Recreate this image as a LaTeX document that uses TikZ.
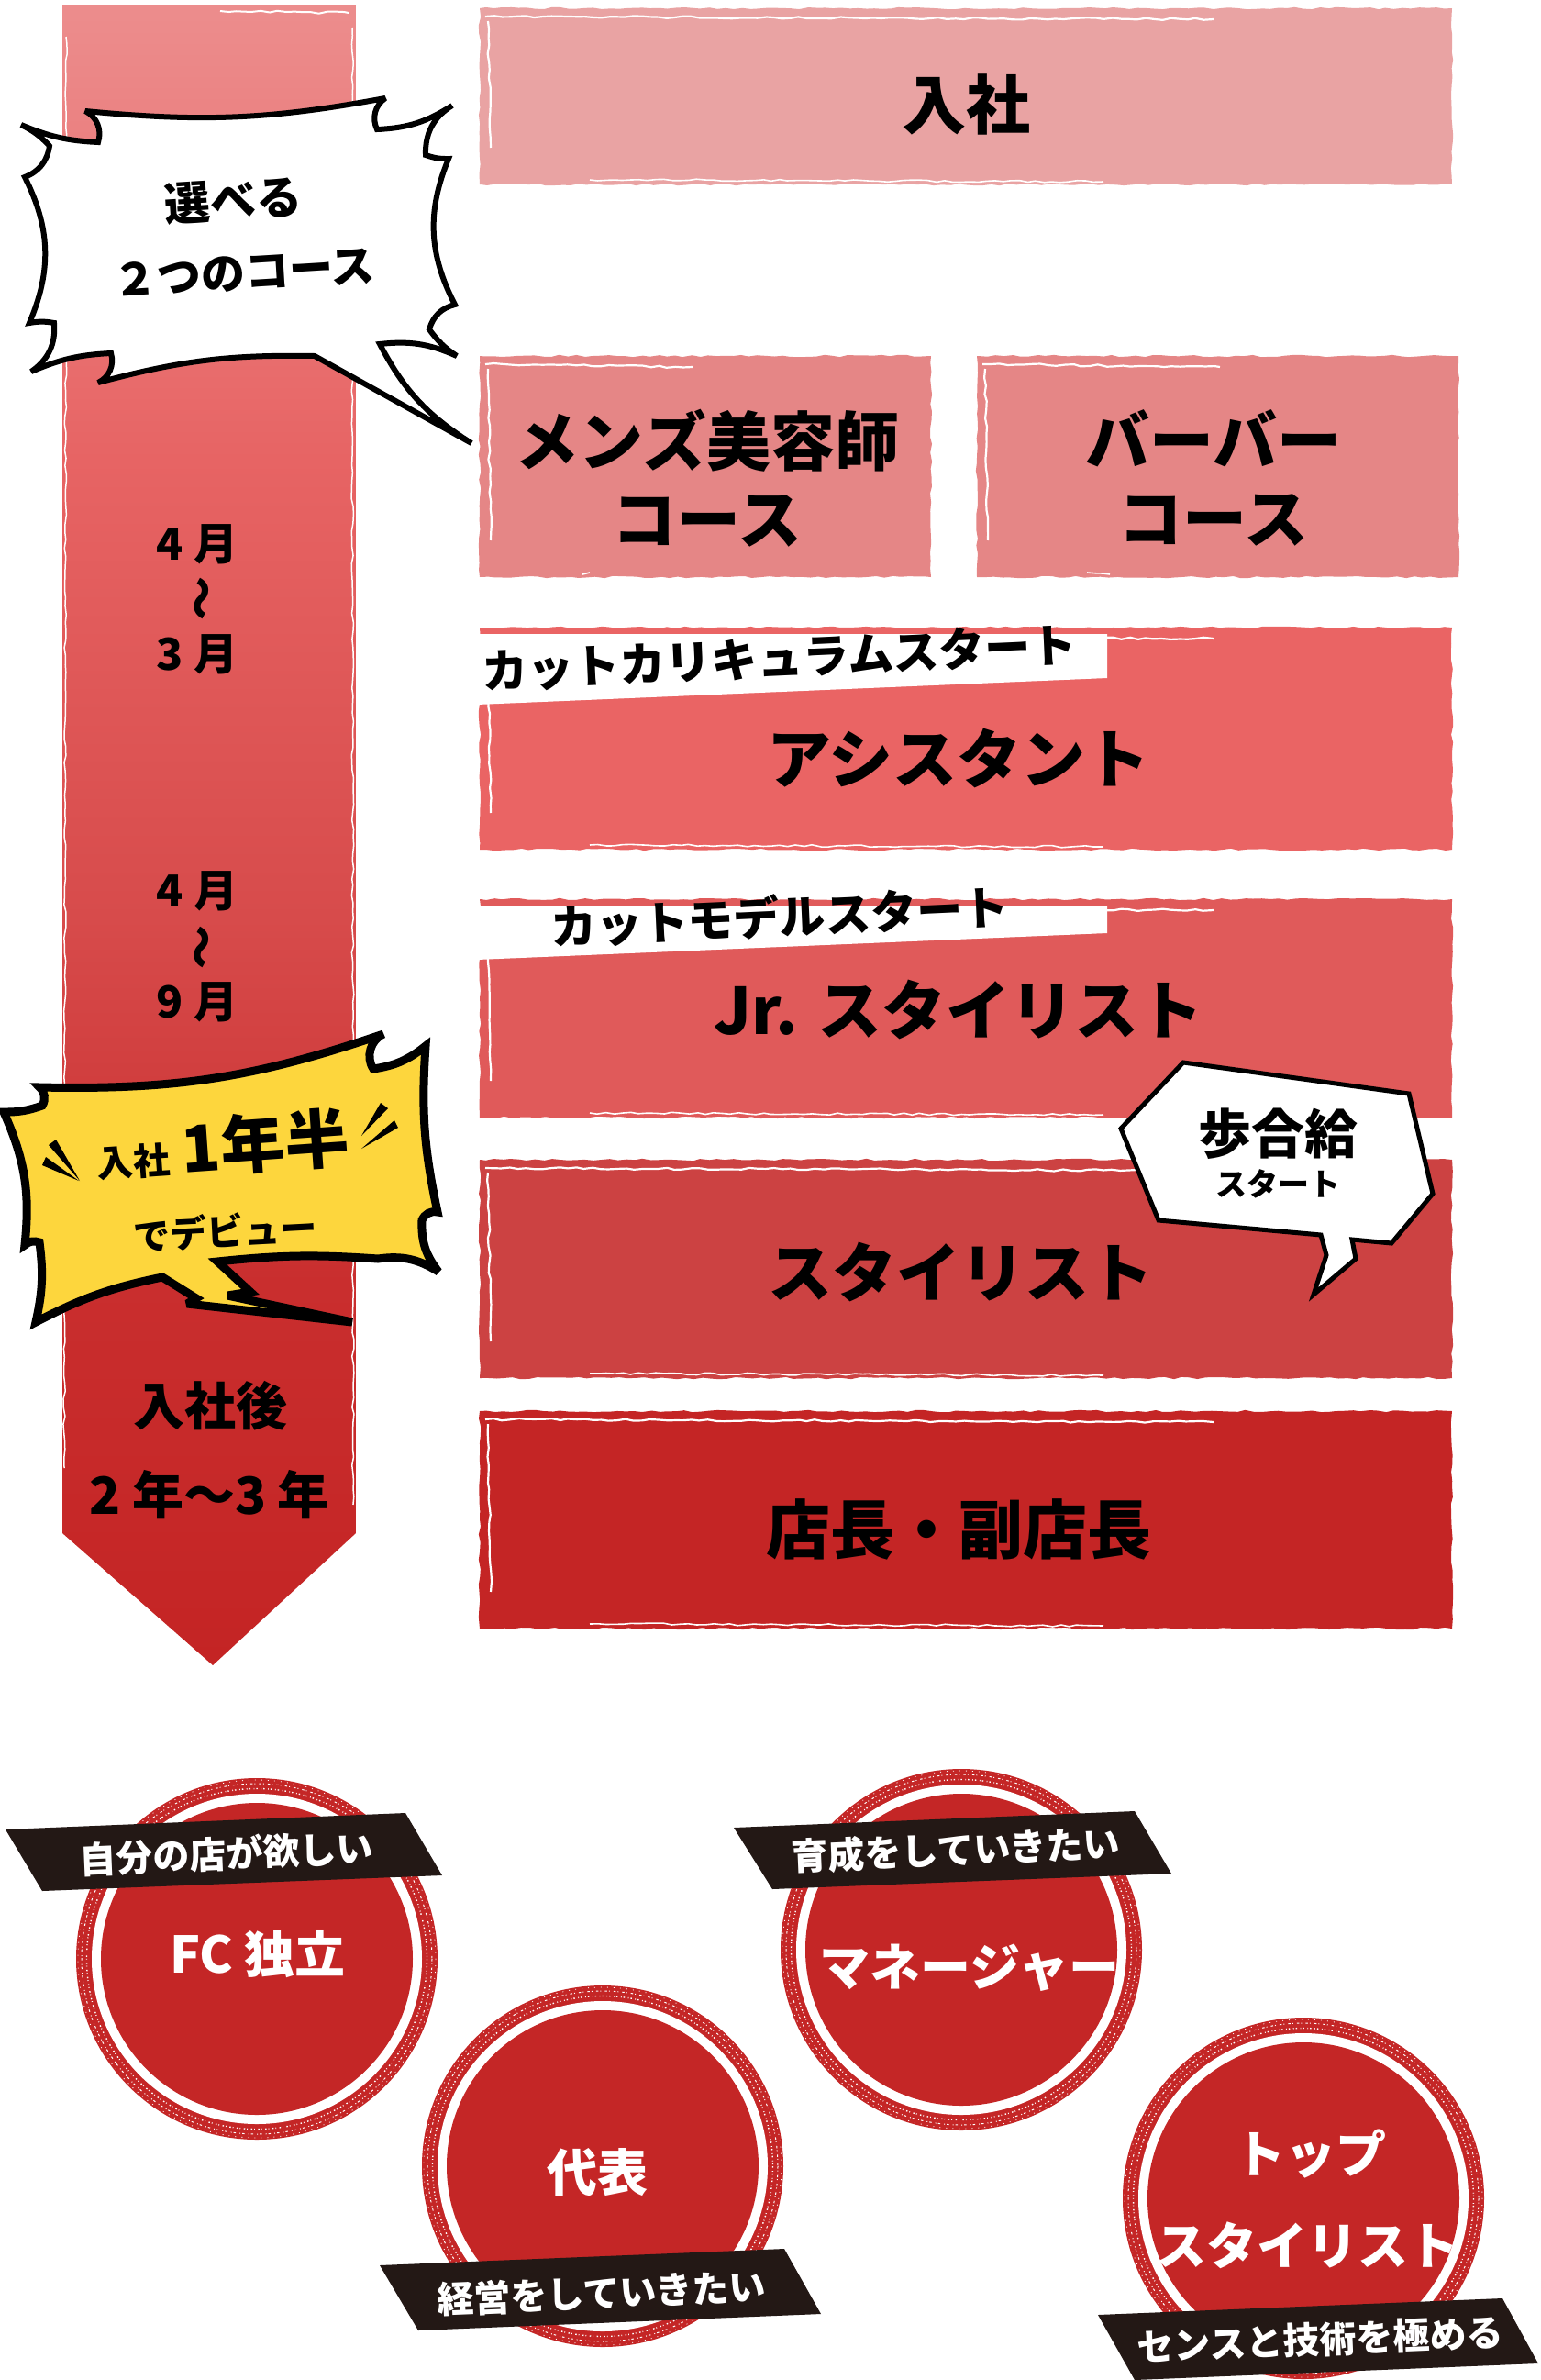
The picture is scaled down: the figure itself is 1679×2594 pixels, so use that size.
\documentclass[tikz,border=0pt]{standalone}
\usepackage{fontspec}
\setmainfont{Noto Sans CJK JP}
\usepackage{tikz}
\usetikzlibrary{decorations.pathmorphing}
\definecolor{cgA}{HTML}{EC8D8D}
\definecolor{cgB}{HTML}{E76464}
\definecolor{cgC}{HTML}{D74B4B}
\definecolor{cgD}{HTML}{C92E2E}
\definecolor{cgE}{HTML}{C42424}
\definecolor{boxA}{HTML}{E9A3A3}
\definecolor{boxB}{HTML}{E58686}
\definecolor{boxC}{HTML}{EA6464}
\definecolor{boxD}{HTML}{E05A5A}
\definecolor{boxE}{HTML}{CC4242}
\definecolor{boxF}{HTML}{C42525}
\definecolor{yel}{HTML}{FDD63D}
\definecolor{stampred}{HTML}{C42626}
\definecolor{bandblack}{HTML}{231815}
\pgfdeclareverticalshading{colgrad}{100bp}{color(0bp)=(cgE); color(25bp)=(cgE); color(36.5bp)=(cgD); color(47.5bp)=(cgC); color(61.3bp)=(cgB); color(75bp)=(cgA); color(100bp)=(cgA)}
\newcommand{\sketchbox}[5]{%
  \fill[#1, rough] (#2,#3) rectangle (#4,#5);
  \draw[white, line width=2.2, rough] ({#2+6},{#3+9}) -- ({#4-260},{#3+12});
  \draw[white, line width=2.2, rough] ({#2+9},{#3+14}) -- ({#2+12},{#5-40});
  \draw[white, line width=1.6, rough] ({#2+120},{#5-5}) -- ({#4-380},{#5-3});
}
\newcommand{\stamp}[3]{%
  \fill[stampred] (#2,#3) circle[radius=197];
  \fill[white] (#2,#3) circle[radius=180];
  \node[circle, fill=stampred, minimum size=340pt, inner sep=0] (#1) at (#2,#3) {};
  \draw[white, line width=1.4, dash pattern=on 1.5pt off 3.5pt on 0.8pt off 2pt] (#2,#3) circle[radius=185.5];
  \draw[white, line width=1.0, dash pattern=on 2.5pt off 2pt on 1pt off 4pt] (#2,#3) circle[radius=191];
  \draw[white, line width=0.8, dash pattern=on 1pt off 6pt] (#2,#3) circle[radius=195];
}
\begin{document}
\begin{tikzpicture}[x=1pt,y=-1pt,
  rough/.style={decorate, decoration={random steps, segment length=9pt, amplitude=1.2pt}},
  boxtext/.style={font=\bfseries\fontsize{70}{85}\selectfont, text=black, inner sep=0, align=center},
  labeltext/.style={font=\bfseries\fontsize{50}{60}\selectfont, text=black, inner sep=0, rotate=2.6},
  coltext/.style={font=\bfseries\fontsize{48}{56}\selectfont, text=black, inner sep=0},
  stamptext/.style={font=\bfseries\fontsize{55}{65}\selectfont, text=white, inner sep=0},
  bantext/.style={font=\bfseries\fontsize{40}{48}\selectfont, text=white, inner sep=0, rotate=2.4},
  banner/.style={fill=bandblack}]
\pgfmathsetseed{7}
\useasboundingbox (0,0) rectangle (1679,2594);

% ---- left timeline arrow
\shade[shading=colgrad] (68,5) -- (388,5) -- (388,1671) -- (232,1815) -- (68,1671) -- cycle;
\draw[white, line width=1.5, rough] (384,30) -- (385,1640);
\draw[white, line width=1.5, rough] (72,40) -- (70,1600);
\draw[white, line width=2, rough] (240,12) -- (380,14);

% ---- right boxes
\sketchbox{boxA}{523}{9}{1583}{201}
\sketchbox{boxB}{523}{388}{1015}{629}
\sketchbox{boxB}{1065}{388}{1590}{629}
\sketchbox{boxC}{523}{684}{1583}{926}
\sketchbox{boxD}{523}{980}{1583}{1218}
\sketchbox{boxE}{523}{1264}{1583}{1502}
\sketchbox{boxF}{523}{1538}{1583}{1775}

% white label bands
\fill[white] (520,691) -- (1207,691) -- (1207,739) -- (520,768) -- cycle;
\fill[white] (520,987) -- (1207,987) -- (1207,1017) -- (520,1046) -- cycle;

% box texts
\node[boxtext] (nyusha) at (1053,114) {入社};
\node[boxtext] (mens) at (771,521) {メンズ美容師\\コース};
\node[boxtext] (barber) at (1323,521) {バーバー\\コース};
\node[boxtext] (assist) at (1045,826) {アシスタント};
\node[boxtext] (jr) at (1045,1100) {Jr. スタイリスト};
\node[boxtext] (stylist) at (1047,1386) {スタイリスト};
\node[boxtext] (tencho) at (1045,1667) {店長・副店長};
\node[labeltext] (curr) at (850,717) {カットカリキュラムスタート};
\node[labeltext] (model) at (850,999) {カットモデルスタート};

% column texts
\node[coltext] (m1) at (215,593) {4 月};
\node[coltext, rotate=-90] (w1) at (215,652) {～};
\node[coltext] (m2) at (215,713) {3 月};
\node[coltext] (m3) at (215,971) {4 月};
\node[coltext, rotate=-90] (w2) at (215,1032) {～};
\node[coltext] (m4) at (215,1092) {9 月};
\node[coltext, font=\bfseries\fontsize{56}{64}\selectfont] (after) at (229,1532) {入社後};
\node[coltext, font=\bfseries\fontsize{56}{64}\selectfont] (years) at (228,1629) {2 年〜3 年};

% ---- speech bubble: two courses
\filldraw[fill=white, draw=black, line width=6, line join=miter, miter limit=3]
  (23,136) to[bend right=10] (107,155) to[bend right=40] (93,121) to[bend right=8] (420,107)
  to[bend right=40] (411,141) to[bend right=15] (493,115) to[bend right=30] (464,169)
  to[bend right=10] (489,173) to[bend right=25] (496,332) to[bend right=30] (468,359)
  to[bend right=10] (498,388) to[bend right=15] (414,375) to[bend right=15] (514,483)
  -- (343,388) to[bend right=8] (107,417) to[bend right=40] (121,385) to[bend right=10] (34,405)
  to[bend right=30] (59,352) to[bend right=10] (32,352) to[bend right=25] (27,193)
  to[bend right=30] (54,159) to[bend right=10] (23,136) -- cycle;
\node[coltext, font=\bfseries\fontsize{50}{60}\selectfont, rotate=3.5] (erabe) at (254,218) {選べる};
\node[coltext, font=\bfseries\fontsize{48}{60}\selectfont, rotate=3.5] (twoc) at (266,298) {２つのコース};

% ---- yellow bubble
\filldraw[fill=yel, draw=black, line width=9, line join=miter, miter limit=3]
  (43,1185) to[bend right=10] (418,1127) to[bend right=50] (407,1165) to[bend right=15] (464,1140)
  to[bend right=8] (477,1321) to[bend right=40] (460,1330) to[bend right=20] (478,1386)
  to[bend right=20] (412,1372) to[bend right=5] (237,1375) -- (273,1408) -- (248,1412)
  -- (384,1441) -- (204,1421) -- (214,1415) -- (177,1392) to[bend right=8] (39,1441)
  to[bend right=10] (43,1354) to[bend right=30] (27,1357) to[bend right=15] (4,1212)
  to[bend right=10] (46,1205) to[bend right=40] (43,1185) -- cycle;
\fill[black] (53,1248) -- (61,1242) -- (87,1287) -- cycle;
\fill[black] (46,1270) -- (50,1261) -- (86,1287) -- cycle;
\fill[black] (415,1202) -- (423,1208) -- (394,1238) -- cycle;
\fill[black] (430,1221) -- (434,1229) -- (394,1252) -- cycle;
\node[coltext, font=\bfseries\fontsize{40}{48}\selectfont, rotate=4] (nyu2) at (145,1266) {入社};
\node[coltext, font=\bfseries\fontsize{70}{80}\selectfont, rotate=4] (ichinen) at (289,1245) {1年半};
\node[coltext, font=\bfseries\fontsize{40}{48}\selectfont, rotate=3] (debut) at (246,1342) {でデビュー};

% ---- commission bubble
\filldraw[fill=white, draw=black, line width=5, line join=miter]
  (1290,1158) -- (1536,1192) -- (1562,1301) -- (1517,1355) -- (1474,1351) -- (1478,1372)
  -- (1432,1411) -- (1446,1368) -- (1440,1346) -- (1263,1330) -- (1222,1230) -- cycle;
\node[coltext, font=\bfseries\fontsize{58}{64}\selectfont] (buai) at (1393,1236) {歩合給};
\node[coltext, font=\bfseries\fontsize{34}{40}\selectfont] (bstart) at (1393,1290) {スタート};

% ---- career stamps
\stamp{fc}{280}{2135}
\stamp{daihyo}{657}{2361}
\stamp{mgr}{1048}{2125}
\stamp{top}{1421}{2396}
\node[stamptext] (fct) at (281,2130) {FC 独立};
\node[stamptext] (daihyot) at (651,2368) {代表};
\node[stamptext] (mgrt) at (1057,2145) {マネージャー};
\node[stamptext] (topt1) at (1429,2348) {トップ};
\node[stamptext] (topt2) at (1425,2447) {スタイリスト};

\fill[banner] (6,1994) -- (442,1976) -- (482,2044) -- (46,2061) -- cycle;
\fill[banner] (414,2469) -- (855,2451) -- (895,2522) -- (456,2540) -- cycle;
\fill[banner] (800,1992) -- (1237,1974) -- (1277,2042) -- (842,2059) -- cycle;
\fill[banner] (1197,2523) -- (1638,2505) -- (1677,2576) -- (1237,2594) -- cycle;
\node[bantext] (b1) at (247,2020) {自分の店が欲しい};
\node[bantext] (b2) at (656,2499) {経営をしていきたい};
\node[bantext] (b3) at (1042,2016) {育成をしていきたい};
\node[bantext] (b4) at (1439,2550) {センスと技術を極める};
\end{tikzpicture}
\end{document}
